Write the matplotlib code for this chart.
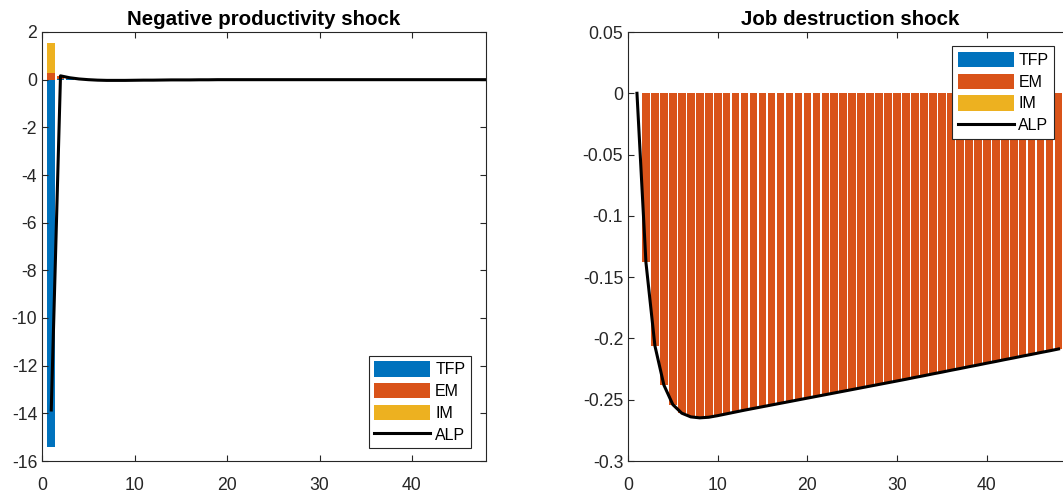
"""Decomposition of ALP responses: productivity vs job destruction shock."""

import numpy as np
import matplotlib
matplotlib.use("Agg")
import matplotlib.pyplot as plt

plt.rcParams["font.family"] = ["Liberation Sans", "DejaVu Sans"]
plt.rcParams["axes.unicode_minus"] = False

periods = list(range(1, 49))
labels = ["TFP", "EM", "IM", "ALP"]

# negative productivity shock
tfp_prod = [-15.40, 0.02, 0.01, 0.00, 0.00, 0.00, 0.00, 0.00, 0.00, 0.00,
            0.00, 0.00, 0.00, 0.00, 0.00, 0.00, 0.00, 0.00, 0.00, 0.00,
            0.00, 0.00, 0.00, 0.00, 0.00, 0.00, 0.00, 0.00, 0.00, 0.00,
            0.00, 0.00, 0.00, 0.00, 0.00, 0.00, 0.00, 0.00, 0.00, 0.00,
            0.00, 0.00, 0.00, 0.00, 0.00, 0.00, 0.00, 0.00]
em_prod = [0.285, 0.12, 0.05, 0.01, 0.00, 0.00, 0.00, 0.00, 0.00, 0.00,
           0.00, 0.00, 0.00, 0.00, 0.00, 0.00, 0.00, 0.00, 0.00, 0.00,
           0.00, 0.00, 0.00, 0.00, 0.00, 0.00, 0.00, 0.00, 0.00, 0.00,
           0.00, 0.00, 0.00, 0.00, 0.00, 0.00, 0.00, 0.00, 0.00, 0.00,
           0.00, 0.00, 0.00, 0.00, 0.00, 0.00, 0.00, 0.00]
im_prod = [1.255, 0.02, 0.01, 0.00, 0.00, 0.00, 0.00, 0.00, 0.00, 0.00,
           0.00, 0.00, 0.00, 0.00, 0.00, 0.00, 0.00, 0.00, 0.00, 0.00,
           0.00, 0.00, 0.00, 0.00, 0.00, 0.00, 0.00, 0.00, 0.00, 0.00,
           0.00, 0.00, 0.00, 0.00, 0.00, 0.00, 0.00, 0.00, 0.00, 0.00,
           0.00, 0.00, 0.00, 0.00, 0.00, 0.00, 0.00, 0.00]
alp_prod = [-13.86, 0.16, 0.08, 0.03, 0.00, -0.02, -0.03, -0.03, -0.03, -0.025,
            -0.02, -0.02, -0.015, -0.01, -0.01, -0.01, -0.005, -0.005, 0.00, 0.00,
            0.00, 0.00, 0.00, 0.00, 0.00, 0.00, 0.00, 0.00, 0.00, 0.00,
            0.00, 0.00, 0.00, 0.00, 0.00, 0.00, 0.00, 0.00, 0.00, 0.00,
            0.00, 0.00, 0.00, 0.00, 0.00, 0.00, 0.00, 0.00]

# job destruction shock
tfp_jd = [0.0] * 48
im_jd = [0.0] * 48
em_jd = [0.0, -0.138, -0.206, -0.238, -0.254, -0.261, -0.264, -0.2648, -0.2643, -0.2630,
         -0.2615, -0.2600, -0.2585, -0.2571, -0.2557, -0.2543, -0.2529, -0.2515, -0.2501, -0.2487,
         -0.2473, -0.2459, -0.2445, -0.2431, -0.2417, -0.2403, -0.2389, -0.2375, -0.2361, -0.2347,
         -0.2333, -0.2318, -0.2304, -0.2289, -0.2275, -0.2260, -0.2246, -0.2231, -0.2217, -0.2202,
         -0.2188, -0.2173, -0.2159, -0.2144, -0.2130, -0.2115, -0.2101, -0.2086]
alp_jd = list(em_jd)

colors = ["#0072BD", "#D95319", "#EDB120"]
INK = "#262626"


def stacked_bars(ax, x, series):
    x = np.asarray(x)
    pos = np.zeros(len(x))
    neg = np.zeros(len(x))
    handles = []
    for vals, c in zip(series, colors):
        v = np.asarray(vals, dtype=float)
        bottom = np.where(v >= 0, pos, neg)
        h = ax.bar(x, v, width=0.85, bottom=bottom, color=c, edgecolor="none")
        handles.append(h)
        pos = pos + np.clip(v, 0, None)
        neg = neg + np.clip(v, None, 0)
    return handles


def style_axes(ax):
    for s in ax.spines.values():
        s.set_color(INK)
        s.set_linewidth(0.8)
    ax.tick_params(direction="in", length=4, width=0.8, colors=INK,
                   labelsize=12.7, top=True, right=True)
    ax.tick_params(axis="x", pad=11.5)
    ax.tick_params(axis="y", pad=3.5)


def add_legend(ax, handles, **kw):
    leg = ax.legend(handles, labels, borderaxespad=0, fancybox=False, edgecolor=INK,
                    framealpha=1, fontsize=11.5, handlelength=3.5, handleheight=1.1,
                    labelspacing=0.35, handletextpad=0.3, borderpad=0.35, **kw)
    leg.get_frame().set_linewidth(0.8)
    return leg


fig = plt.figure(figsize=(10.63, 4.97), dpi=100)
ax1 = fig.add_axes([42 / 1063, 36 / 497, 444 / 1063, 429 / 497])
ax2 = fig.add_axes([628 / 1063, 36 / 497, 444 / 1063, 429 / 497])

# left panel
h = stacked_bars(ax1, periods, [tfp_prod, em_prod, im_prod])
ln, = ax1.plot(periods, alp_prod, color="black", lw=2.2, solid_joinstyle="round")
ax1.set_xlim(0, 48)
ax1.set_ylim(-16, 2)
ax1.set_xticks([0, 10, 20, 30, 40])
ax1.set_yticks(np.arange(-16, 3, 2))
ax1.set_title("Negative productivity shock", fontsize=14.8, fontweight="bold", pad=5)
style_axes(ax1)
add_legend(ax1, h + [ln], loc="lower right", bbox_to_anchor=(0.966, 0.03))

# right panel
h = stacked_bars(ax2, periods, [tfp_jd, em_jd, im_jd])
ln, = ax2.plot(periods, alp_jd, color="black", lw=2.2, solid_joinstyle="round")
ax2.set_xlim(0, 49.5)
ax2.set_ylim(-0.3, 0.05)
ax2.set_xticks([0, 10, 20, 30, 40])
ax2.set_yticks([-0.3, -0.25, -0.2, -0.15, -0.1, -0.05, 0, 0.05])
ax2.set_yticklabels(["-0.3", "-0.25", "-0.2", "-0.15", "-0.1", "-0.05", "0", "0.05"])
ax2.set_title("Job destruction shock", fontsize=14.8, fontweight="bold", pad=5)
style_axes(ax2)
add_legend(ax2, h + [ln], loc="upper right", bbox_to_anchor=(0.9595, 0.9665))

fig.savefig("out.png", dpi=100)
plt.close(fig)
print("Saved: out.png")
